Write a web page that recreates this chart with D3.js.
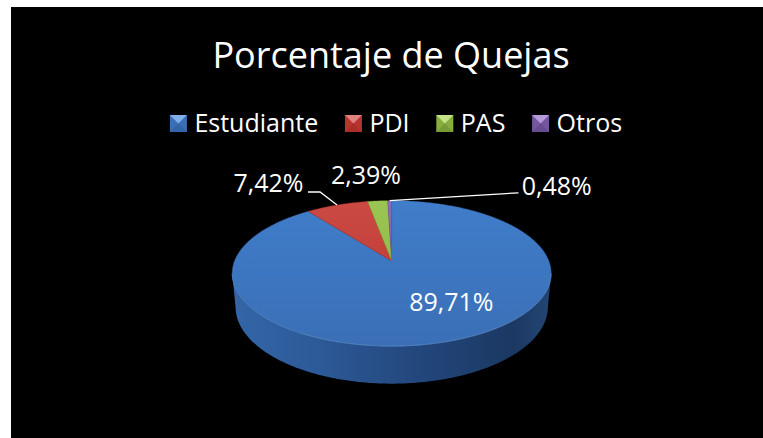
<!DOCTYPE html>
<html>
<head>
<meta charset="utf-8">
<script src="https://cdn.jsdelivr.net/npm/d3@7"></script>
<style>
  html, body { margin: 0; padding: 0; background: #ffffff; }
  svg { display: block; }
  text { font-family: "Open Sans", "DejaVu Sans", sans-serif; fill: #ffffff; }
</style>
</head>
<body>
<svg id="chart" width="763" height="438"></svg>
<script>
// ---- data ----
const categories = ["Estudiante", "PDI", "PAS", "Otros"];
const shares = [89.71, 7.42, 2.39, 0.48];
const titleText = "Porcentaje de Quejas";

// ---- palette (top face, side face, legend bevel) ----
const topLight = ["#407dca", "#cc4a44", "#9cc653", "#8b6cb5"];
const topDark  = ["#3a6fb6", "#b8342f", "#86ad3d", "#7456a0"];
const legendHi = ["#7fb0ea", "#e2817d", "#c4e385", "#b49ad6"];
const legendLo = ["#2d5e9e", "#9e2b27", "#6c9030", "#5e4486"];

const W = 763, H = 438;
const svg = d3.select("#chart");

// chart area background
svg.append("rect").attr("x", 11).attr("y", 7)
  .attr("width", W - 11).attr("height", H - 7).attr("fill", "#000000");

const defs = svg.append("defs");

// ---- 3D pie projection (perspective view of a tilted disc) ----
const cx = 391.7, cy = 261;           // projected centre of the disc
const tilt = 26.7 * Math.PI / 180;    // viewing elevation
const camDist = 5.25;                 // camera distance in disc radii
const focal = 825;                    // focal length in px
const thickness = 0.24;               // disc thickness in disc radii
const sa = Math.sin(tilt), ca = Math.cos(tilt);

// angle measured clockwise from 12 o'clock (same convention as d3.pie)
function project(theta, r, y) {
  const x = r * Math.sin(theta);
  const z = -r * Math.cos(theta);     // far side is at 12 o'clock
  const yc = z * sa - y * ca;
  const depth = camDist - (z * ca + y * sa);
  return [cx + focal * x / depth, cy + focal * yc / depth];
}

function arcPoints(a0, a1, y) {
  const n = Math.max(2, Math.ceil(Math.abs(a1 - a0) / 0.01));
  return d3.range(n + 1).map(i => project(a0 + (a1 - a0) * i / n, 1, y));
}

const line = d3.line();
const pie = d3.pie().sort(null).value(d => d);
const arcs = pie(shares);

// silhouette angles of the cylinder wall (extreme x of the rim)
const edgeAngle = Math.acos(-ca / camDist);
const frontStart = edgeAngle, frontEnd = 2 * Math.PI - edgeAngle;

// side wall gradient
const sideGrad = defs.append("linearGradient").attr("id", "side")
  .attr("gradientUnits", "userSpaceOnUse")
  .attr("x1", cx - 160).attr("x2", cx + 160).attr("y1", 0).attr("y2", 0);
[["0", "#3366a8"], ["0.3", "#2c5896"], ["0.6", "#22467a"], ["0.88", "#1b3862"], ["1", "#244675"]]
  .forEach(([o, c]) => sideGrad.append("stop").attr("offset", o).attr("stop-color", c));

// top face gradients per slice
categories.forEach((c, i) => {
  const g = defs.append("linearGradient").attr("id", "top" + i)
    .attr("gradientUnits", "userSpaceOnUse")
    .attr("x1", 0).attr("x2", 0).attr("y1", cy - 62).attr("y2", cy + 86);
  g.append("stop").attr("offset", "0").attr("stop-color", topLight[i]);
  g.append("stop").attr("offset", "1").attr("stop-color", topDark[i]);
});

const pieG = svg.append("g");

// side walls (front half only)
arcs.forEach((a, i) => {
  const s = Math.max(a.startAngle, frontStart);
  const e = Math.min(a.endAngle, frontEnd);
  if (e <= s) return;
  const pts = arcPoints(s, e, 0).concat(arcPoints(e, s, -thickness));
  pieG.append("path").attr("d", line(pts) + "Z")
    .attr("fill", i === 0 ? "url(#side)" : topDark[i]);
});

// top faces
arcs.forEach((a, i) => {
  const pts = [project(0, 0, 0)].concat(arcPoints(a.startAngle, a.endAngle, 0));
  pieG.append("path").attr("d", line(pts) + "Z")
    .attr("fill", `url(#top${i})`)
    .attr("stroke", topDark[i]).attr("stroke-width", 0.4);
});

// soft highlight along the front rim
pieG.append("path")
  .attr("d", line(arcPoints(frontStart, frontEnd, 0)))
  .attr("fill", "none").attr("stroke", "#6f9fdc").attr("stroke-opacity", 0.55)
  .attr("stroke-width", 1);

// ---- title ----
svg.append("text").attr("x", 391).attr("y", 67.7)
  .attr("text-anchor", "middle").attr("font-size", 36)
  .text(titleText);

// ---- legend ----
const legend = svg.append("g");
const mk = 17, mkGap = 7.5, itemGap = 26.7, legendBase = 132.3;
let lx = 0;
categories.forEach((c, i) => {
  const g = legend.append("g").attr("transform", `translate(${lx},0)`);
  const y0 = legendBase - 17.3, x0 = 0;
  const tl = [x0, y0], tr = [x0 + mk, y0], br = [x0 + mk, y0 + mk], bl = [x0, y0 + mk];
  const m = [x0 + mk / 2, y0 + mk / 2];
  g.append("path").attr("d", line([tl, tr, br, bl]) + "Z").attr("fill", topDark[i]);
  g.append("path").attr("d", line([tl, tr, m]) + "Z").attr("fill", legendHi[i]);
  g.append("path").attr("d", line([bl, br, m]) + "Z").attr("fill", legendLo[i]).attr("opacity", 0.6);
  const t = g.append("text").attr("x", mk + mkGap).attr("y", legendBase)
    .attr("font-size", 25).text(c);
  lx += mk + mkGap + t.node().getComputedTextLength() + itemGap;
});
const legendWidth = lx - itemGap;
legend.attr("transform", `translate(${396 - legendWidth / 2},0)`);

// ---- data labels ----
const fmt = v => d3.format(".2f")(v).replace(".", ",") + "%";
const mid = a => (a.startAngle + a.endAngle) / 2;

// label placement: [x, baseline, anchor, leader elbow or null]
const labelLayout = [
  [451.3, 311, "middle", null],
  [303.5, 192.3, "end", [[320, 192], [308, 192]]],
  [366, 184.3, "middle", null],
  [521.7, 195, "start", [[518.5, 192.8]]]
];

arcs.forEach((a, i) => {
  const [x, y, anchor, elbow] = labelLayout[i];
  if (elbow) {
    const p = project(mid(a), 1, 0);
    svg.append("path").attr("d", line([p].concat(elbow)))
      .attr("fill", "none").attr("stroke", "#ffffff").attr("stroke-width", 1.3);
  }
  svg.append("text").attr("x", x).attr("y", y)
    .attr("text-anchor", anchor).attr("font-size", 25)
    .text(fmt(shares[i]));
});
</script>
</body>
</html>
